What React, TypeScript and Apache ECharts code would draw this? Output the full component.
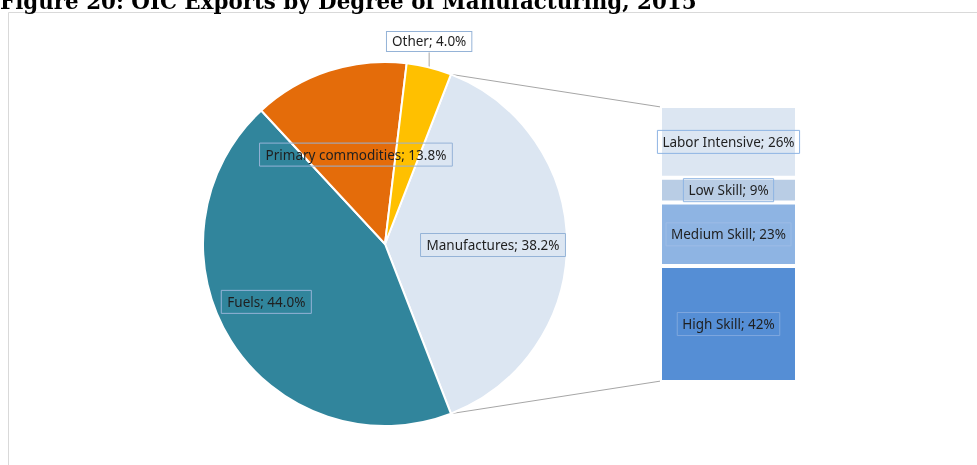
import React, { useEffect, useRef } from "react";
import * as echarts from "echarts";

const titleText = "Figure 20: OIC Exports by Degree of Manufacturing, 2015";
const pieCategories = ["Manufactures", "Fuels", "Primary commodities", "Other"];
const pieValues = [38.2, 44.0, 13.8, 4.0];
const pieColors = ["#DCE6F2", "#31859C", "#E46C0A", "#FFC000"];
const barCategories = ["High Skill", "Medium Skill", "Low Skill", "Labor Intensive"];
const barValues = [42, 23, 9, 26];
const barColors = ["#558ED5", "#8EB4E3", "#B9CDE5", "#DCE6F2"];

const W = 977;
const H = 465;
const CX = 385;
const CY = 244;
const R = 182;
const GRID = { left: 660, top: 106, width: 137, height: 276 };

const labelBase = {
  fontFamily: "Noto Sans",
  fontSize: 13.5,
  color: "#1f1f1f",
  borderColor: "#95B3D7",
  borderWidth: 1,
  padding: [4, 6],
  lineHeight: 15,
};

export default function App() {
  const ref = useRef<HTMLDivElement>(null);
  useEffect(() => {
    if (!ref.current) return;
    const chart = echarts.init(ref.current, undefined, { renderer: "svg" });
    const total = pieValues.reduce((a, b) => a + b, 0);
    const startAngle = ((pieValues[0] / total) * 360) / 2;
    const endAngle = startAngle - (pieValues[0] / total) * 360;
    const toRad = (d: number) => (d * Math.PI) / 180;
    const pt = (deg: number, r: number) => [CX + r * Math.cos(toRad(deg)), CY - r * Math.sin(toRad(deg))];
    let acc = 0;
    const mids: number[] = [];
    pieValues.forEach((v) => {
      const a0 = startAngle - (acc / total) * 360;
      acc += v;
      const a1 = startAngle - (acc / total) * 360;
      mids.push((a0 + a1) / 2);
    });
    const otherEdge = pt(mids[3], R);
    const p1 = pt(startAngle, R);
    const p2 = pt(endAngle, R);

    chart.setOption({
      animation: false,
      graphic: [
        {
          type: "rect",
          z: 0,
          shape: { x: 8.5, y: 12.5, width: W, height: H },
          style: { fill: "none", stroke: "#D9D9D9", lineWidth: 1 },
        },
        {
          type: "text",
          z: 10,
          x: 0,
          y: 1,
          style: {
            text: titleText,
            fontFamily: "DejaVu Serif",
            fontWeight: "bold",
            fontSize: 21.4,
            fill: "#000",
            verticalAlign: "middle",
          },
        },
        {
          type: "line",
          shape: { x1: p1[0], y1: p1[1], x2: GRID.left + 1, y2: GRID.top + 1 },
          style: { stroke: "#A6A6A6", lineWidth: 1 },
        },
        {
          type: "line",
          shape: { x1: p2[0], y1: p2[1], x2: GRID.left + 1, y2: GRID.top + GRID.height - 1 },
          style: { stroke: "#A6A6A6", lineWidth: 1 },
        },
        {
          type: "line",
          shape: { x1: otherEdge[0], y1: otherEdge[1], x2: otherEdge[0], y2: otherEdge[1] - 15 },
          style: { stroke: "#A6A6A6", lineWidth: 1 },
        },
      ],
      grid: GRID,
      xAxis: { type: "category", data: ["Manufactures"], show: false },
      yAxis: { type: "value", min: 0, max: 100, show: false },
      series: [
        {
          type: "pie",
          center: [CX, CY],
          radius: R,
          startAngle,
          clockwise: true,
          avoidLabelOverlap: false,
          emphasis: { disabled: true },
          itemStyle: { borderColor: "#fff", borderWidth: 2 },
          label: {
            show: true,
            position: "inside",
            formatter: (p: any) => `${p.name}; ${Number(p.value).toFixed(1)}%`,
            ...labelBase,
          },
          labelLine: { show: false },
          labelLayout: (params: any) => {
            const i = params.dataIndex;
            if (i === 0) return { dx: 14, dy: 1 };
            if (i === 1) return { dx: -39, dy: 8 };
            if (i === 3)
              return { x: otherEdge[0], y: otherEdge[1] - 26, align: "center", verticalAlign: "middle" };
            return {};
          },
          data: pieCategories.map((n, i) => ({
            name: n,
            value: pieValues[i],
            itemStyle: { color: pieColors[i] },
            label: i === 3 ? { backgroundColor: "#fff", padding: [2, 5] } : {},
          })),
        },
        ...barCategories.map((n, i) => ({
          type: "bar",
          name: n,
          stack: "manuf",
          barWidth: "100%",
          data: [barValues[i]],
          emphasis: { disabled: true },
          itemStyle: { color: barColors[i], borderColor: "#fff", borderWidth: 2 },
          label: {
            show: true,
            position: "inside",
            formatter: "{a}; {c}%",
            ...labelBase,
            padding: [4, 5],
            borderColor: i === 0 ? "#7FA8DE" : i === 1 ? "#9DBDE6" : "#8EB4E3",
          },
        })),
      ],
    });
    return () => chart.dispose();
  }, []);
  return <div ref={ref} style={{ position: "fixed", left: 0, top: 0, width: W, height: H }} />;
}
